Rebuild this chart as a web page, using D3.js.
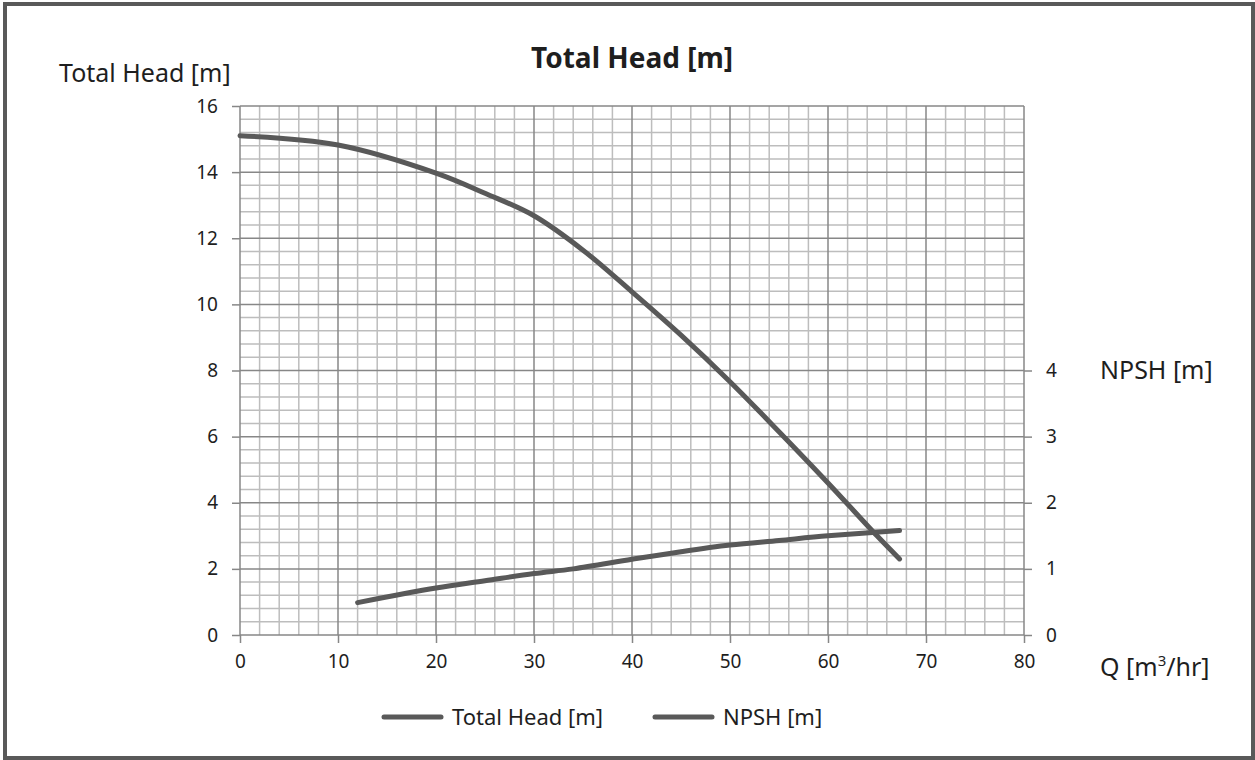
<!DOCTYPE html>
<html>
<head>
<meta charset="utf-8">
<script src="https://cdn.jsdelivr.net/npm/d3@7"></script>
<style>
  html, body { margin: 0; padding: 0; background: #fff; }
  svg { display: block; font-family: "Noto Sans", "Open Sans", sans-serif; }
</style>
</head>
<body>
<svg id="chart" width="1255" height="760"></svg>
<script>
// Pump performance curve: total head and NPSH against flow rate Q
const flowHead   = [0, 10, 20, 25, 30, 35, 40, 45, 50, 55, 60, 65, 67.3];
const totalHead  = [15.1, 14.82, 13.97, 13.36, 12.68, 11.64, 10.38, 9.07, 7.66, 6.15, 4.6, 3.0, 2.3];

const flowNpsh   = [12, 20, 25, 30, 34, 40, 45, 50, 55, 60, 67.3];
const npsh       = [0.49, 0.71, 0.82, 0.93, 1.0, 1.145, 1.26, 1.36, 1.43, 1.5, 1.58];

const xTicks     = [0, 10, 20, 30, 40, 50, 60, 70, 80];
const headTicks  = [0, 2, 4, 6, 8, 10, 12, 14, 16];
const npshTicks  = [0, 1, 2, 3, 4];

const svg = d3.select("#chart");
const W = 1255, H = 760;
const plot = { left: 240, right: 1024, top: 106, bottom: 635 };

const x = d3.scaleLinear().domain([0, 80]).range([plot.left, plot.right]);
const yL = d3.scaleLinear().domain([0, 16]).range([plot.bottom, plot.top]);
const yR = d3.scaleLinear().domain([0, 8]).range([plot.bottom, plot.top]);

const textColor = "#1e1e1e";
const lineColor = "#595959";

// outer frame
svg.append("rect")
  .attr("x", 5).attr("y", 4).attr("width", W - 7).attr("height", H - 6)
  .attr("fill", "#fff").attr("stroke", "#595959").attr("stroke-width", 4);

// minor grid: every 2 on Q, every 0.4 on head
const minorX = d3.range(0, 80.001, 2).filter(v => v % 10 !== 0);
const minorY = d3.range(0, 16.001, 0.4).filter(v => Math.abs(v / 2 - Math.round(v / 2)) > 1e-6);

const grid = svg.append("g");
grid.selectAll("line.mx").data(minorX).join("line")
  .attr("x1", d => x(d)).attr("x2", d => x(d))
  .attr("y1", plot.top).attr("y2", plot.bottom)
  .attr("stroke", "#bdbdbd").attr("stroke-width", 1.5);
grid.selectAll("line.my").data(minorY).join("line")
  .attr("y1", d => yL(d)).attr("y2", d => yL(d))
  .attr("x1", plot.left).attr("x2", plot.right)
  .attr("stroke", "#bdbdbd").attr("stroke-width", 1.5);

// major grid
grid.selectAll("line.Mx").data(xTicks).join("line")
  .attr("x1", d => x(d)).attr("x2", d => x(d))
  .attr("y1", plot.top).attr("y2", plot.bottom)
  .attr("stroke", "#878787").attr("stroke-width", 1.5);
grid.selectAll("line.My").data(headTicks).join("line")
  .attr("y1", d => yL(d)).attr("y2", d => yL(d))
  .attr("x1", plot.left).attr("x2", plot.right)
  .attr("stroke", "#878787").attr("stroke-width", 1.5);

// axes
const styleAxis = g => {
  g.select(".domain").remove();
  g.selectAll(".tick line").attr("stroke", "#878787").attr("stroke-width", 1.5);
  g.selectAll(".tick text").attr("fill", textColor).attr("font-size", 19)
    .attr("font-family", "'Noto Sans', 'Open Sans', sans-serif");
};

svg.append("g")
  .attr("transform", `translate(0,${plot.bottom})`)
  .call(d3.axisBottom(x).tickValues(xTicks).tickSize(8).tickPadding(12))
  .call(styleAxis);

svg.append("g")
  .attr("transform", `translate(${plot.left},0)`)
  .call(d3.axisLeft(yL).tickValues(headTicks).tickSize(8).tickPadding(14))
  .call(styleAxis);

svg.append("g")
  .attr("transform", `translate(${plot.right},0)`)
  .call(d3.axisRight(yR).tickValues(npshTicks).tickSize(8).tickPadding(14))
  .call(styleAxis);

// curves
const headLine = d3.line().x(d => x(d[0])).y(d => yL(d[1])).curve(d3.curveCatmullRom.alpha(0.5));
const npshLine = d3.line().x(d => x(d[0])).y(d => yR(d[1])).curve(d3.curveCatmullRom.alpha(0.5));

svg.append("path")
  .datum(d3.zip(flowHead, totalHead))
  .attr("d", headLine)
  .attr("fill", "none").attr("stroke", lineColor).attr("stroke-width", 5)
  .attr("stroke-linecap", "round").attr("stroke-linejoin", "round");

svg.append("path")
  .datum(d3.zip(flowNpsh, npsh))
  .attr("d", npshLine)
  .attr("fill", "none").attr("stroke", lineColor).attr("stroke-width", 5)
  .attr("stroke-linecap", "round").attr("stroke-linejoin", "round");

// titles
svg.append("text")
  .attr("x", 632).attr("y", 68).attr("text-anchor", "middle")
  .attr("font-size", 28).attr("font-weight", "bold").attr("fill", textColor)
  .text("Total Head [m]");

svg.append("text")
  .attr("x", 59).attr("y", 82)
  .attr("font-size", 25).attr("fill", textColor)
  .text("Total Head [m]");

svg.append("text")
  .attr("x", 1100).attr("y", 379)
  .attr("font-size", 25).attr("fill", textColor)
  .text("NPSH [m]");

const qLabel = svg.append("text")
  .attr("x", 1100).attr("y", 676)
  .attr("font-size", 25).attr("fill", textColor);
qLabel.append("tspan").text("Q [m");
qLabel.append("tspan").attr("font-size", 15).attr("dy", -10).text("3");
qLabel.append("tspan").attr("dy", 10).text("/hr]");

// legend
const legendItems = [
  { label: "Total Head [m]", x: 384 },
  { label: "NPSH [m]", x: 655 }
];
const legend = svg.append("g");
legendItems.forEach(item => {
  legend.append("line")
    .attr("x1", item.x).attr("x2", item.x + 57)
    .attr("y1", 717).attr("y2", 717)
    .attr("stroke", lineColor).attr("stroke-width", 5).attr("stroke-linecap", "round");
  legend.append("text")
    .attr("x", item.x + 68).attr("y", 725)
    .attr("font-size", 22).attr("fill", textColor)
    .text(item.label);
});
</script>
</body>
</html>
